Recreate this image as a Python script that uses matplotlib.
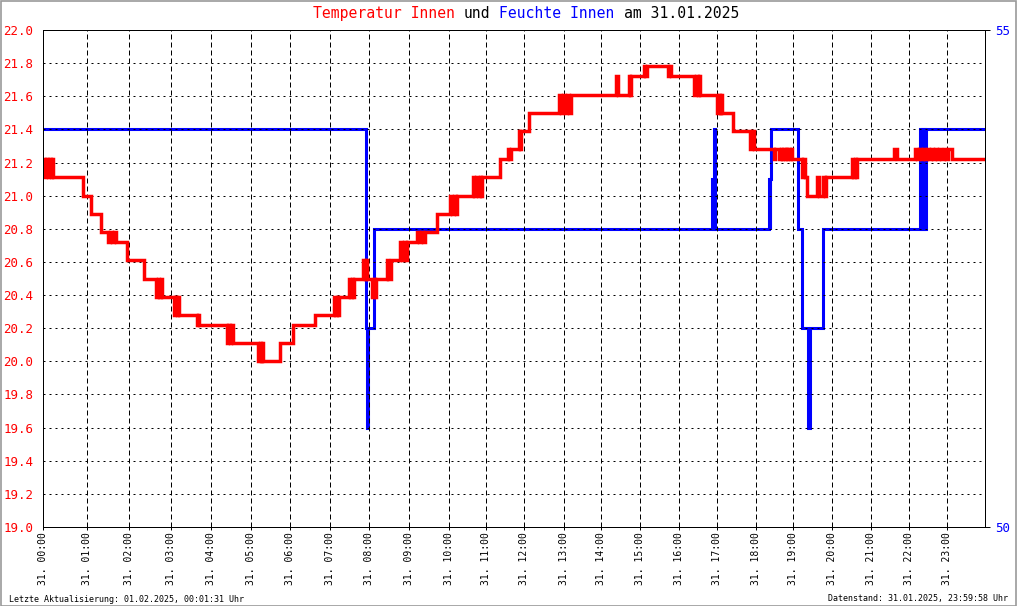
import matplotlib
matplotlib.use("Agg")
import matplotlib.pyplot as plt
from matplotlib.patches import Rectangle

# x = Messwert-Index (ein Wert je Pixelspalte des Originals)
tick_pos = [0, 43.4, 85.4, 127.4, 168, 207.4, 247, 286.4, 325.4, 366, 405.4, 443,
            481, 520.4, 558, 597, 635.4, 673.4, 712.4, 750, 788.4, 827.4, 865.4, 903.4]
tick_labels = [f"31. {h:02d}:00" for h in range(24)]
x_end = 942

temp_x = [0, 2, 3, 5, 6, 8, 9, 10, 39.7, 47.7, 57.7, 65, 67, 69, 71, 73, 84, 101,
          113, 114.5, 116, 117.5, 119, 130.3, 132, 133.5, 135, 136, 154, 155, 156,
          183.7, 185, 186.5, 188, 189.3, 215, 216.5, 218, 219, 220, 236.3, 249.7, 272,
          290.3, 292, 293.5, 294.5, 295.5, 305.3, 307, 308.5, 309.5, 310.5,
          320, 321.5, 322.5, 324, 329, 330.5, 331.5, 333, 343.7, 345, 348,
          357, 359, 361, 362.5, 364, 373.7, 376, 378, 380, 382, 393.7,
          407, 409, 411, 412.5, 414, 429.7, 431, 433, 435, 437, 438, 439,
          457, 464.7, 466, 467.5, 475.3, 476.5, 478, 485.3,
          516, 518, 520, 522, 524, 526, 528, 573, 575, 585.7, 587, 588,
          600.3, 602, 603.5, 624.7, 626, 627.5, 651, 653, 655, 656, 657,
          673.7, 675.5, 677, 678, 679, 689.7, 707, 709, 711,
          730.3, 732, 736, 737.5, 739, 740, 741.5, 742.5, 744, 745, 746.5, 747.5, 749,
          758.7, 760, 761.5, 763.7, 774, 776, 780, 781.5, 783,
          808.7, 810, 811.5, 812.5, 813.5, 851, 854,
          872, 874, 876, 878, 880, 882, 884, 886, 888, 890, 892, 894, 896, 898,
          901, 903, 905, 909, 942]
temp_y = [21.22, 21.11, 21.22, 21.11, 21.22, 21.11, 21.22, 21.11, 21.0, 20.89, 20.78,
          20.72, 20.78, 20.72, 20.78, 20.72, 20.61, 20.5,
          20.39, 20.5, 20.39, 20.5, 20.39, 20.28, 20.39, 20.28, 20.39, 20.28, 20.22, 20.28, 20.22,
          20.11, 20.22, 20.11, 20.22, 20.11, 20.0, 20.11, 20.0, 20.11, 20.0, 20.11, 20.22, 20.28,
          20.39, 20.28, 20.39, 20.28, 20.39, 20.5, 20.39, 20.5, 20.39, 20.5,
          20.61, 20.5, 20.61, 20.5, 20.39, 20.5, 20.39, 20.5, 20.61, 20.5, 20.61,
          20.72, 20.61, 20.72, 20.61, 20.72, 20.78, 20.72, 20.78, 20.72, 20.78, 20.89,
          21.0, 20.89, 21.0, 20.89, 21.0, 21.11, 21.0, 21.11, 21.0, 21.11, 21.0, 21.11,
          21.22, 21.28, 21.22, 21.28, 21.39, 21.28, 21.39, 21.5,
          21.61, 21.5, 21.61, 21.5, 21.61, 21.5, 21.61, 21.72, 21.61, 21.72, 21.61, 21.72,
          21.78, 21.72, 21.78, 21.72, 21.78, 21.72, 21.61, 21.72, 21.61, 21.72, 21.61,
          21.5, 21.61, 21.5, 21.61, 21.5, 21.39, 21.28, 21.39, 21.28,
          21.22, 21.28, 21.22, 21.28, 21.22, 21.28, 21.22, 21.28, 21.22, 21.28, 21.22, 21.28, 21.22,
          21.11, 21.22, 21.11, 21.0, 21.11, 21.0, 21.11, 21.0, 21.11,
          21.22, 21.11, 21.22, 21.11, 21.22, 21.28, 21.22,
          21.28, 21.22, 21.28, 21.22, 21.28, 21.22, 21.28, 21.22, 21.28, 21.22, 21.28, 21.22, 21.28, 21.22,
          21.28, 21.22, 21.28, 21.22, 21.22]

hum_x = [0, 322.5, 323.5, 325, 331, 669, 669.7, 670.3, 671, 671.5,
         725.7, 726.3, 727, 727.7, 754.3, 759, 765, 766.5, 779.7,
         877, 878, 879, 880, 881, 882, 883, 942]
hum_y = [54, 52, 51, 52, 53, 53.5, 53, 53.5, 54, 53,
         53.5, 53, 53.5, 54, 53, 52, 51, 52, 53,
         54, 53, 54, 53, 54, 53, 54, 54]

title_parts = ["Temperatur Innen", "und", "Feuchte Innen", "am 31.01.2025"]
title_colors = ['#FF0000', 'black', '#0000FF', 'black']

mono = "DejaVu Sans Mono"
W, H = 1020, 606
fig = plt.figure(figsize=(W / 100, H / 100), dpi=100)
ax = fig.add_axes([43.3 / W, (H - 527) / H, 942 / W, 497 / H])
ax2 = ax.twinx()
ax.set_zorder(ax2.get_zorder() + 1)
ax.patch.set_visible(False)

ax2.step(hum_x, hum_y, where='post', color='#0000FF', lw=2.2, solid_joinstyle='miter')
ax.step(temp_x, temp_y, where='post', color='#FF0000', lw=2.5, solid_joinstyle='miter')

ax.set_xlim(0, x_end)
ax.set_ylim(19.0, 22.0)
ax2.set_ylim(50, 55)

yt = [19.0 + 0.2 * i for i in range(16)]
ax.set_yticks(yt)
ax.set_yticklabels([f"{v:.1f}" for v in yt], color='#FF0000', fontsize=9, family=mono)
ax.set_yticks([19.0, 22.0], minor=True)
ax.tick_params(axis='y', which='major', length=0, pad=7.2)
ax.tick_params(axis='y', which='minor', length=3.6, width=0.72)

ax.set_xticks(tick_pos)
ax.set_xticklabels(tick_labels, rotation=90, fontsize=7, family=mono)
ax.tick_params(axis='x', length=2.2, width=0.72, pad=1.4)

ax2.set_yticks([50, 55])
ax2.set_yticklabels(["50", "55"], color='#0000FF', fontsize=9, family=mono)
ax2.tick_params(axis='y', length=3.6, width=0.72, pad=3.6)

for a in (ax, ax2):
    for s in a.spines.values():
        s.set_linewidth(0.72)
        s.set_color('black')

for v in yt[1:-1]:
    ax.axhline(v, color='black', lw=0.72, ls=(0, (2, 4)), zorder=0.5)
for p in tick_pos[1:]:
    ax.axvline(p, color='black', lw=0.72, ls=(0, (5, 3)), zorder=0.5)

# Titel in farbigen Teilen; Monospace -> Zeichenbreite einmal messen
renderer = fig.canvas.get_renderer()
probe = fig.text(0, 0, "0" * 20, fontsize=10.6, family=mono)
cw = probe.get_window_extent(renderer).width / 20
probe.remove()
x0 = 313
col = 0
for t, c in zip(title_parts, title_colors):
    fig.text((x0 + col * cw) / W, 1 - 13.5 / H, t, color=c, fontsize=10.6,
             family=mono, ha='left', va='center')
    col += len(t) + 1

fig.text(9 / W, 1 - 599 / H, "Letzte Aktualisierung: 01.02.2025, 00:01:31 Uhr",
         fontsize=6, family=mono, ha='left', va='center')
fig.text(1008 / W, 1 - 599 / H, "Datenstand: 31.01.2025, 23:59:58 Uhr",
         fontsize=6, family=mono, ha='right', va='center')

fig.patches.append(Rectangle((0.5 / W, 0.5 / H), 1016 / W, (H - 1) / H,
                             transform=fig.transFigure, fill=False,
                             edgecolor='#999999', lw=1.2))

fig.savefig("out.png", dpi=100)
